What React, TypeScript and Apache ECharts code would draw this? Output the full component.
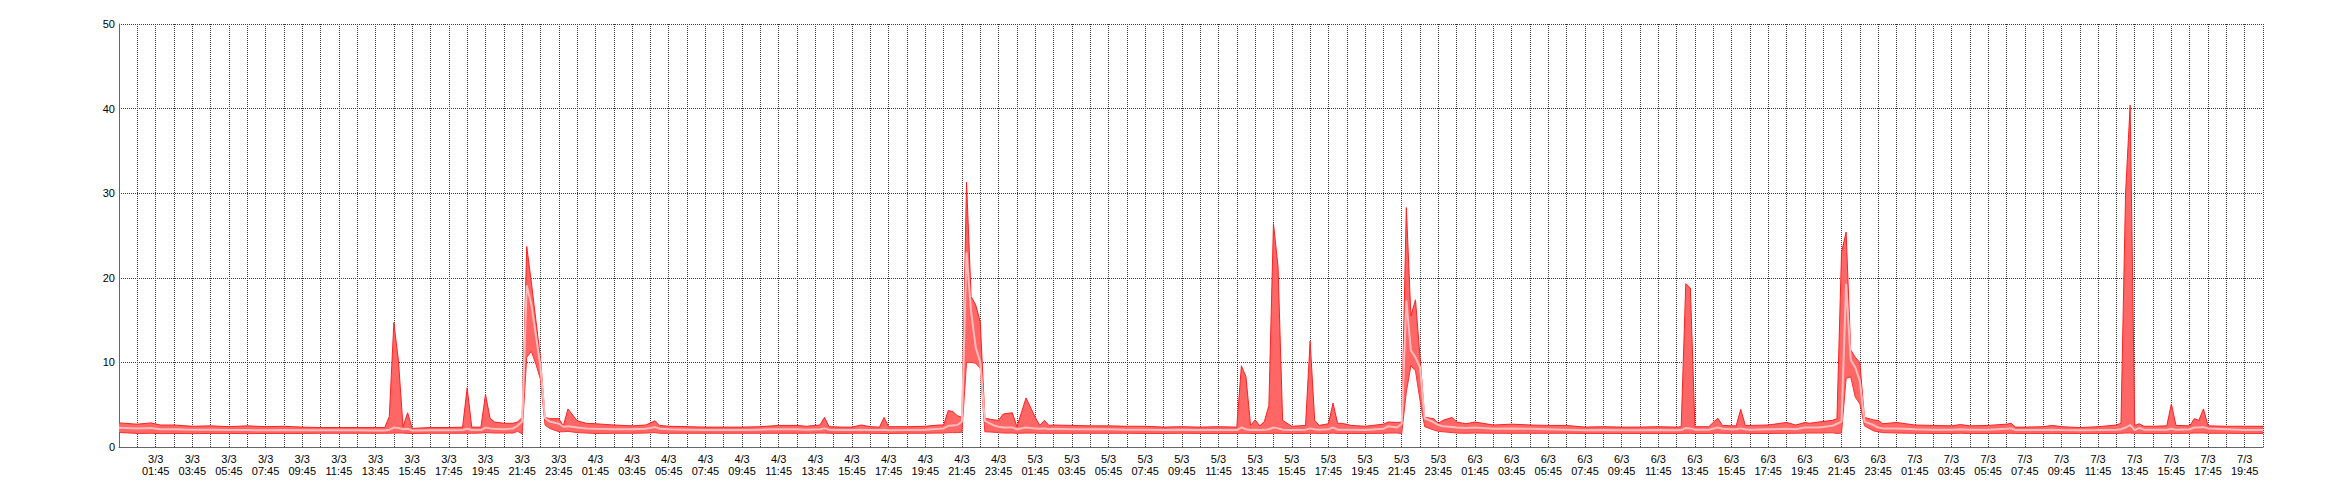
import React, { useEffect, useRef } from "react";
import * as echarts from "echarts";

// Hours since the first sample (2/3 23:45), 15-minute resolution where detail is visible
const hours = [
  0, 1, 1.75, 2.25, 3, 4, 5, 6, 7, 8, 9, 10, 11, 12, 13, 14, 14.5, 14.75, 15, 15.25, 15.5, 15.75, 16, 17, 18,
  18.75, 19, 19.25, 19.75, 20, 20.25, 20.5, 21, 21.5, 21.75, 22, 22.25, 22.5, 22.75, 23, 23.25, 23.5, 24, 24.25,
  24.5, 25, 25.5, 26, 27, 28, 28.75, 29.25, 29.5, 30, 31, 32, 33, 34, 35, 36, 37, 37.5, 38.25, 38.5, 38.75, 39.5,
  40, 40.5, 41, 41.5, 41.75, 42, 43, 44, 44.75, 45, 45.25, 45.5, 45.75, 46, 46.25, 46.5, 46.75, 47, 47.25, 47.75,
  48, 48.25, 48.75, 49, 49.5, 50, 50.25, 50.5, 50.75, 51, 52, 53, 54, 55, 56, 57, 58, 59, 60, 61, 61.25, 61.5,
  61.75, 62, 62.25, 62.5, 62.75, 63, 63.25, 63.5, 64, 64.75, 65, 65.25, 65.5, 66, 66.25, 66.5, 66.75, 67.25, 68,
  69, 69.25, 69.75, 70, 70.25, 70.5, 70.75, 71, 71.25, 71.75, 72, 72.25, 72.75, 73, 73.5, 74, 75, 76, 77, 78, 79,
  80, 81, 82, 83, 84, 85, 85.25, 85.5, 85.75, 86, 86.75, 87.25, 87.5, 88, 88.25, 88.5, 88.75, 89, 90, 91, 91.5,
  92, 92.25, 92.75, 93.5, 93.75, 94, 94.25, 94.5, 94.75, 95, 95.25, 95.75, 96, 96.25, 97, 98, 99, 100, 100.5, 101,
  102, 103, 103.25, 103.5, 104, 105, 105.5, 106, 107, 108, 109, 109.25, 109.5, 109.75, 110, 110.25, 110.5, 111,
  111.75, 112, 112.25, 113, 113.25, 113.5, 113.75, 114, 115, 116, 117,
];

const maxVals = [
  2.85, 2.7, 2.85, 2.6, 2.6, 2.45, 2.5, 2.4, 2.5, 2.4, 2.45, 2.35, 2.3, 2.3, 2.3, 2.3, 2.3, 3.6, 14.7, 10.2, 2.4, 4.05, 2.2, 2.3, 2.3,
  2.35, 7.0, 2.35, 2.35, 6.2, 3.4, 2.95, 2.8, 2.8, 2.95, 3.5, 23.7, 19.5, 15.0, 10.5, 3.5, 3.35, 3.35, 2.5,
  4.5, 3.1, 2.8, 2.75, 2.6, 2.5, 2.6, 3.1, 2.55, 2.45, 2.4, 2.35, 2.35, 2.35, 2.4, 2.55, 2.55, 2.45, 2.6, 3.5, 2.4, 2.35,
  2.35, 2.6, 2.4, 2.35, 3.5, 2.4, 2.4, 2.45, 2.6, 2.6, 4.3, 4.2, 3.7, 3.5, 31.3, 17.8, 16.8, 14.8, 3.4, 3.2,
  3.15, 3.9, 4.05, 2.4, 5.8, 3.5, 2.55, 3.15, 2.55, 2.6, 2.55, 2.5, 2.5, 2.45, 2.45, 2.35, 2.4, 2.35, 2.4, 2.35, 9.6, 8.3,
  2.55, 3.2, 2.5, 3.0, 4.9, 26.4, 21.3, 3.15, 2.45, 2.55, 12.5, 3.15, 2.55, 2.75, 5.2, 2.8, 2.8, 2.55, 2.45,
  2.7, 2.95, 2.9, 2.95, 28.3, 15.5, 17.4, 10.6, 3.5, 3.35, 2.8, 3.15, 3.5, 2.95, 2.75, 2.95, 2.6, 2.7, 2.6, 2.55, 2.55,
  2.35, 2.4, 2.35, 2.35, 2.4, 2.35, 2.4, 19.3, 18.8, 2.4, 2.4, 3.4, 2.55, 2.5, 2.5, 4.45, 2.55, 2.55, 2.6, 2.9, 2.6,
  2.9, 2.8, 2.95, 3.15, 3.35, 23.0, 25.4, 11.5, 10.6, 10.0, 3.5, 3.2, 3.15, 2.75, 2.9, 2.6, 2.55, 2.5, 2.65, 2.5,
  2.55, 2.7, 2.8, 2.35, 2.35, 2.4, 2.55, 2.4, 2.3, 2.4, 2.6, 2.8, 30.0, 40.4, 2.55, 2.75, 2.45, 2.45,
  2.5, 5.1, 2.55, 2.5, 3.35, 3.15, 4.5, 2.5, 2.45, 2.45, 2.45,
];

const avgVals = [
  2.28, 2.2, 2.25, 2.1, 2.1, 2.05, 2.05, 2.0, 2.0, 1.98, 2.0, 1.98, 1.97, 1.97, 1.97, 1.95, 1.95, 2.05, 2.3, 2.25, 2.1, 2.15, 1.95, 1.97, 1.97,
  2.0, 2.15, 2.0, 2.0, 2.3, 2.2, 2.15, 2.1, 2.2, 2.5, 3.0, 19.1, 16.9, 13.2, 9.5, 3.4, 3.0, 2.75, 2.4,
  2.45, 2.3, 2.2, 2.15, 2.1, 2.1, 2.15, 2.35, 2.15, 2.1, 2.05, 2.0, 2.0, 2.0, 2.05, 2.1, 2.1, 2.05, 2.1, 2.2, 2.05, 2.0,
  2.0, 2.05, 2.0, 2.0, 2.05, 1.97, 2.0, 2.05, 2.15, 2.2, 2.5, 2.55, 2.6, 3.0, 23.0, 16.0, 11.8, 10.0, 3.1, 2.55,
  2.4, 2.3, 2.3, 2.1, 2.3, 2.2, 2.15, 2.2, 2.1, 2.15, 2.1, 2.1, 2.1, 2.05, 2.05, 2.0, 2.05, 2.0, 2.0, 2.0, 2.3, 2.1,
  2.0, 2.05, 2.0, 2.05, 2.1, 2.3, 2.2, 2.05, 2.0, 2.05, 2.2, 2.1, 2.05, 2.1, 2.3, 2.05, 2.05, 2.05, 2.0,
  2.15, 2.45, 2.3, 2.75, 17.3, 11.4, 10.6, 9.4, 3.4, 2.9, 2.6, 2.45, 2.35, 2.3, 2.25, 2.3, 2.15, 2.2, 2.15, 2.1, 2.05,
  1.97, 2.0, 1.97, 1.97, 2.0, 1.97, 2.0, 2.25, 2.2, 2.05, 2.05, 2.3, 2.15, 2.1, 2.1, 2.2, 2.1, 2.05, 2.1, 2.15, 2.1,
  2.3, 2.3, 2.3, 2.5, 2.75, 3.0, 19.3, 10.3, 9.4, 7.8, 3.0, 2.6, 2.3, 2.2, 2.2, 2.1, 2.05, 2.05, 2.1, 2.05,
  2.05, 2.15, 2.2, 2.0, 2.0, 2.0, 2.05, 2.0, 1.97, 2.0, 2.05, 2.1, 2.3, 2.6, 2.0, 2.25, 2.05, 2.05,
  2.05, 2.15, 2.05, 2.1, 2.3, 2.3, 2.35, 2.2, 2.1, 2.0, 2.0,
];

const minVals = [
  1.72, 1.6, 1.62, 1.58, 1.6, 1.58, 1.6, 1.6, 1.58, 1.6, 1.6, 1.6, 1.62, 1.62, 1.62, 1.62, 1.62, 1.62, 1.65, 1.65, 1.65, 1.6, 1.6, 1.62, 1.62,
  1.62, 1.62, 1.62, 1.65, 1.7, 1.68, 1.65, 1.65, 1.65, 1.85, 1.55, 10.6, 11.3, 9.8, 8.0, 2.6, 2.2, 1.8, 1.8,
  1.85, 1.7, 1.65, 1.6, 1.62, 1.62, 1.65, 1.7, 1.62, 1.62, 1.62, 1.62, 1.62, 1.62, 1.62, 1.62, 1.62, 1.62, 1.65, 1.65, 1.62, 1.6,
  1.62, 1.62, 1.62, 1.6, 1.6, 1.6, 1.62, 1.62, 1.65, 1.65, 1.7, 1.7, 1.7, 1.75, 10.0, 10.0, 9.9, 9.3, 1.8, 1.75,
  1.7, 1.65, 1.65, 1.62, 1.65, 1.65, 1.62, 1.62, 1.62, 1.62, 1.62, 1.62, 1.62, 1.62, 1.6, 1.6, 1.62, 1.6, 1.6, 1.6, 1.62, 1.62,
  1.6, 1.6, 1.6, 1.6, 1.6, 1.62, 1.62, 1.6, 1.6, 1.6, 1.62, 1.62, 1.6, 1.62, 1.65, 1.6, 1.6, 1.6, 1.6,
  1.62, 1.65, 1.65, 1.6, 6.5, 9.6, 9.0, 5.5, 2.4, 2.0, 1.85, 1.8, 1.7, 1.65, 1.62, 1.65, 1.62, 1.62, 1.62, 1.62, 1.62,
  1.6, 1.6, 1.6, 1.6, 1.6, 1.6, 1.6, 1.62, 1.62, 1.6, 1.6, 1.65, 1.62, 1.62, 1.62, 1.62, 1.62, 1.6, 1.6, 1.62, 1.62,
  1.65, 1.65, 1.65, 1.68, 1.6, 1.65, 8.1, 8.3, 5.9, 5.1, 2.5, 1.9, 1.8, 1.7, 1.65, 1.62, 1.6, 1.6, 1.62, 1.6,
  1.6, 1.62, 1.62, 1.6, 1.6, 1.6, 1.6, 1.6, 1.6, 1.6, 1.6, 1.62, 1.65, 1.65, 1.62, 1.62, 1.6, 1.6,
  1.6, 1.62, 1.6, 1.62, 1.65, 1.65, 1.65, 1.62, 1.62, 1.6, 1.6,
];

// Axis labels: first sample time and label spacing
const startTime = { day: 2, month: 3, hour: 23, minute: 45 };
const labelEveryHours = 2;
const yTicks = [0, 10, 20, 30, 40, 50];

function xLabel(v: number): string {
  const t = Math.round(v);
  if (Math.abs(v - t) > 1e-6 || t % labelEveryHours !== 0 || t < 2 || t > 116) return "";
  const total = startTime.hour + t;
  const day = startTime.day + Math.floor(total / 24);
  const hh = total % 24;
  return `${day}/${startTime.month}\n${String(hh).padStart(2, "0")}:${startTime.minute}`;
}

export default function App() {
  const ref = useRef<HTMLDivElement>(null);
  useEffect(() => {
    if (!ref.current) return;
    const chart = echarts.init(ref.current, null, { renderer: "svg" });
    const n = Math.min(hours.length, maxVals.length, minVals.length, avgVals.length);
    const bandData = hours.slice(0, n).map((t, i) => [t, minVals[i], maxVals[i]]);
    const minData = hours.slice(0, n).map((t, i) => [t, minVals[i]]);
    const maxData = hours.slice(0, n).map((t, i) => [t, maxVals[i]]);
    const avgData = hours.slice(0, n).map((t, i) => [t, avgVals[i]]);
    const font = "'Liberation Sans', Arial, sans-serif";
    const gridLine = { show: true, lineStyle: { color: "#3a3a3a", width: 1, type: [1, 1] } };
    chart.setOption({
      animation: false,
      backgroundColor: "#ffffff",
      grid: { left: 119, top: 24, right: 77, bottom: 53, containLabel: false },
      xAxis: {
        type: "value",
        min: 0,
        max: 117,
        interval: 1,
        axisLine: { show: true, lineStyle: { color: "#666", width: 1 } },
        axisTick: { show: false },
        splitLine: gridLine,
        axisLabel: {
          formatter: xLabel,
          color: "#000",
          fontFamily: font,
          fontSize: 11,
          lineHeight: 12,
          margin: 6,
          showMinLabel: false,
          showMaxLabel: false,
        },
      },
      yAxis: {
        type: "value",
        min: yTicks[0],
        max: yTicks[yTicks.length - 1],
        interval: 10,
        axisLine: { show: true, lineStyle: { color: "#666", width: 1 } },
        axisTick: { show: false },
        splitLine: gridLine,
        axisLabel: { color: "#000", fontFamily: font, fontSize: 11, margin: 4 },
      },
      series: [
        {
          name: "band",
          type: "custom",
          silent: true,
          clip: true,
          encode: { x: 0, y: [1, 2] },
          data: bandData,
          renderItem: (params: any, api: any) => {
            if (params.dataIndex !== 0) return null;
            const pts: number[][] = [];
            for (let i = 0; i < bandData.length; i++) pts.push(api.coord([bandData[i][0], bandData[i][2]]));
            for (let i = bandData.length - 1; i >= 0; i--) pts.push(api.coord([bandData[i][0], bandData[i][1]]));
            return { type: "polygon", shape: { points: pts }, style: { fill: "#ff6666", stroke: "none" } };
          },
        },
        {
          name: "min",
          type: "line",
          data: minData,
          showSymbol: false,
          symbol: "none",
          silent: true,
          lineStyle: { color: "#ff3030", width: 1 },
        },
        {
          name: "max",
          type: "line",
          data: maxData,
          showSymbol: false,
          symbol: "none",
          silent: true,
          lineStyle: { color: "#ff2020", width: 1 },
        },
        {
          name: "avg",
          type: "line",
          data: avgData,
          showSymbol: false,
          symbol: "none",
          silent: true,
          lineStyle: { color: "#ffbcbc", width: 2 },
        },
      ],
    });
    return () => chart.dispose();
  }, []);
  return (
    <div
      ref={ref}
      style={{ position: "absolute", left: 0, top: 0, width: 2340, height: 500, background: "#fff" }}
    />
  );
}
